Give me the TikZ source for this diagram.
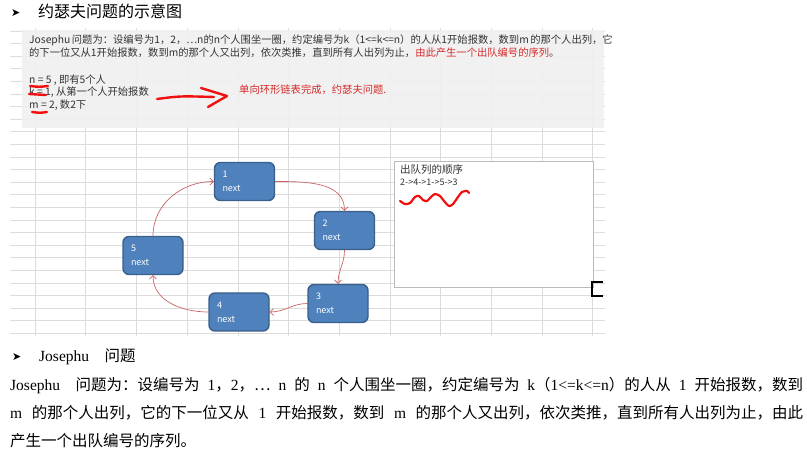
\documentclass[tikz,border=0pt]{standalone}
\usepackage{fontspec}
\setmainfont{Liberation Serif}
\newfontfamily\cjk{Noto Sans CJK SC}
\newfontfamily\symfont{DejaVu Sans}
\usetikzlibrary{arrows.meta}
\XeTeXlinebreaklocale "zh"
\XeTeXlinebreakskip=0pt plus 2pt
\newcommand\zh[1]{{\cjk #1}}
\definecolor{nodeblue}{HTML}{4F81BD}
\definecolor{nodeedge}{HTML}{3A5F8B}
\definecolor{linkred}{HTML}{C86462}
\definecolor{markred}{HTML}{F01010}
\definecolor{textred}{HTML}{D42A2A}
\definecolor{gridgrey}{HTML}{DCDCDC}
\definecolor{panelgrey}{HTML}{F0F0F0}
\definecolor{shottext}{HTML}{333333}
\tikzset{
  person/.style={draw=nodeedge, fill=nodeblue, rounded corners=6pt, line width=1.4pt,
    minimum width=60pt, minimum height=38pt, text width=44pt, align=left, inner sep=0pt,
    text=white, font=\cjk\fontsize{9}{14}\selectfont},
  link/.style={draw=linkred, line width=0.7pt, -{Straight Barb[length=3.5pt,width=7pt]}},
  gridline/.style={draw=gridgrey, line width=0.6pt},
  scrawl/.style={draw=markred, line width=2.4pt, line cap=round, line join=round},
  shot/.style={anchor=base west, inner sep=0pt, text=shottext, font=\cjk\fontsize{10.3}{13}\selectfont},
  doc/.style={anchor=base west, inner sep=0pt, font=\fontsize{15.5}{15.5}\selectfont},
  bullet/.style={anchor=base west, inner sep=0pt, font=\symfont\fontsize{11}{11}\selectfont},
}
\begin{document}
\begin{tikzpicture}[x=1pt,y=1pt]
\useasboundingbox (0,0) rectangle (807,-462);
\node[bullet] (mark1) at (11,-17) {➤};
\node[anchor=base west, inner sep=0pt, font=\cjk\fontsize{16}{16}\selectfont] (title) at (38,-18) {约瑟夫问题的示意图};

\foreach \r in {0,...,24}
  \draw[gridline] (10,-31-12.6*\r) -- (605,-31-12.6*\r);
\foreach \c in {0,...,11}
  \draw[gridline] (35+50.7*\c,-28) -- (35+50.7*\c,-336);
\fill[panelgrey, opacity=0.9] (22,-30) rectangle (604,-128);

\node[shot] (rule1) at (29,-44) {\makebox[572pt][s]{Josephu 问题为：设编号为1，2，…n的n个人围坐一圈，约定编号为k（1<=k<=n）的人从1开始报数，数到m 的那个人出列，它}};
\node[shot] (rule2) at (29,-57) {的下一位又从1开始报数，数到m的那个人又出列，依次类推，直到所有人出列为止，{\color{textred}由此产生一个出队编号的序列}。};
\node[shot] (nval) at (29,-84) {n = 5 , 即有5个人};
\node[shot] (kval) at (29,-96) {k = 1, 从第一个人开始报数};
\node[shot] (mval) at (29,-109) {m = 2, 数2下};
\node[shot, text=textred] (done) at (239,-94) {单向环形链表完成，约瑟夫问题.};
\draw[scrawl] (30,-86) .. controls (39,-87) .. (48,-86);
\draw[scrawl] (29,-94) .. controls (38,-95) .. (46,-95);
\draw[scrawl] (32,-112) .. controls (40,-113) .. (47,-112);
\draw[scrawl] (157,-99) .. controls (180,-96) .. (214,-97);
\draw[scrawl] (201,-88) -- (227,-96) -- (208,-107);

\node[person] (n1) at (244.5,-181.5) {1\\next};
\node[person] (n2) at (344.5,-230.5) {2\\next};
\node[person] (n3) at (338,-303.5) {3\\next};
\node[person] (n4) at (239,-312) {4\\next};
\node[person] (n5) at (153,-255.5) {5\\next};
\path [link] (n1) edge[out=0, in=90] (n2);
\path [link] (n2) edge[out=-90, in=90] (n3);
\path [link] (n3) edge[out=180, in=0] (n4);
\path [link] (n4) edge[out=180, in=-90] (n5);
\path [link] (n5) edge[out=90, in=180] (n1);

\node[draw=gridgrey!85!black, fill=white, line width=0.8pt, anchor=north west, minimum width=199pt, minimum height=126pt, inner sep=0pt] (order) at (394,-161) {};
\node[shot, font=\cjk\fontsize{10.5}{13}\selectfont] (ordertitle) at (400,-174) {出队列的顺序};
\node[shot, font=\cjk\fontsize{9}{11}\selectfont] (orderlist) at (400,-186) {2->4->1->5->3};
\draw[scrawl, line width=2.2pt] plot[smooth] coordinates {(400,-201) (405,-204) (410,-203) (415,-197) (419,-196) (423,-200) (427,-201) (431,-197) (435,-194) (440,-196) (444,-201) (449,-206) (453,-204) (458,-197) (462,-192) (467,-191) (469,-193)};
\draw[line width=1.8pt] (603,-282) -- (592,-282) -- (592,-296) -- (603,-296);

\node[bullet] (mark2) at (12,-361) {➤};
\node[doc] (sub) at (39,-362) {Josephu\quad\zh{问题}};
\node[doc] (para1) at (10,-391) {\makebox[793pt][s]{Josephu\quad\zh{问题为：设编号为} 1\zh{，}2\zh{，⋯} n \zh{的} n \zh{个人围坐一圈，约定编号为} k\zh{（}1<=k<=n\zh{）的人从} 1 \zh{开始报数，数到}}};
\node[doc] (para2) at (10,-419) {\makebox[793pt][s]{m \zh{的那个人出列，它的下一位又从} 1 \zh{开始报数，数到} m \zh{的那个人又出列，依次类推，直到所有人出列为止，由此}}};
\node[doc] (para3) at (10,-447) {\zh{产生一个出队编号的序列。}};
\end{tikzpicture}
\end{document}
